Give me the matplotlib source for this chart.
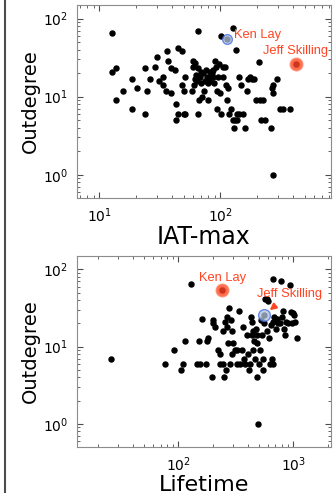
import matplotlib
matplotlib.use("Agg")
import matplotlib.pyplot as plt
from matplotlib.lines import Line2D


""" data read off the picture """
iat_max = [12.8, 12.8, 13.8, 13.8, 15.8, 18.8, 18.8, 20.7, 24.0, 24.0,
           24.8, 26.1, 28.7, 30.0, 31.1, 33.4, 34.0, 36.7, 36.9, 38.9,
           39.6, 42.0, 43.3, 43.3, 45.2, 45.2, 48.2, 48.2, 49.8, 50.7,
           51.4, 51.7, 58.3, 60.2, 60.2, 61.4, 62.1, 63.4, 64.1, 65.0,
           65.0, 66.2, 67.0, 68.4, 69.2, 69.7, 70.5, 71.9, 73.8, 75.2,
           76.6, 77.6, 79.1, 80.1, 81.7, 82.7, 83.7, 85.3, 87.0, 88.1,
           89.8, 90.9, 92.6, 93.8, 95.0, 96.8, 98.1, 100, 101.9, 101.9,
           105.2, 106.6, 110, 112, 115, 115.7, 118, 123, 127, 128,
           130.6, 133, 135.6, 137, 139, 142, 144.5, 150, 156, 162,
           166, 171, 177, 183, 191, 198.5, 209, 212, 218, 225,
           236, 262, 267, 276, 276, 272, 294, 313, 330, 379,
           35.8, 61.3, 113, 422]
outdeg_iat = [65, 21, 23, 9, 12, 7, 17, 13, 23, 6,
              12, 17, 24, 32, 16, 18, 14, 38, 29, 23,
              11, 22, 8, 5, 6, 42, 39, 14, 6, 12,
              18, 6, 12, 24, 29, 27, 17, 19, 16, 70,
              6, 23, 9, 18, 21, 15, 10, 20, 12, 16,
              22, 18, 9, 15, 21, 16, 18, 20, 18, 22,
              15, 29, 24, 7, 12, 18, 26, 11, 6, 60,
              24, 18, 24, 14, 9, 13, 6, 7, 75, 5,
              4, 5, 40, 6, 5, 18, 6, 14, 6, 4,
              12, 17, 18, 17, 17, 9, 28, 9, 5, 9,
              5, 4, 13, 11, 14, 1, 17, 7, 7, 7,
              12, 14, 55, 26]

lifetime = [25.8, 77.1, 91.7, 105.5, 110.5, 114.3, 128, 146, 150, 154,
            159.5, 173, 176, 182, 197.6, 199, 201.5, 208, 223, 230,
            230, 238, 243, 246, 249.5, 253, 258, 263, 267, 268.6,
            274, 281, 285, 291, 295, 301, 311, 321, 326, 339,
            344, 355.4, 367, 372, 383, 393, 406, 414, 420, 426,
            434, 440, 443, 449, 455, 464, 470, 480, 480, 486,
            493, 506, 513, 520, 531, 541, 548, 556, 567, 587,
            587, 607, 610, 627, 635, 648, 661, 670, 670, 679,
            702, 716, 741, 766, 781, 792, 808, 830, 847, 864,
            905, 936, 948, 968, 987, 1014, 1033, 1069]
outdeg_life = [7, 6, 9, 5, 6, 12, 65, 6, 12, 6,
               23, 6, 12, 13, 4, 22, 20, 18, 9, 8,
               6, 55, 16, 6, 4, 21, 5, 24, 18, 11,
               32, 6, 22, 16, 8, 11, 9, 6, 9, 29,
               6, 9, 18, 7, 6, 14, 8, 5, 6, 24,
               21, 14, 9, 16, 12, 7, 17, 4, 11, 14,
               1, 6, 9, 22, 14, 7, 5, 20, 42, 42,
               16, 39, 13, 6, 19, 7, 21, 76, 6, 24,
               17, 23, 20, 20, 70, 24, 29, 17, 14, 21,
               20, 62, 28, 20, 27, 26, 21, 13]

ken_iat, jeff_iat = 113, 422
ken_life, jeff_life = 238, 559
ken_out, jeff_out = 55, 26

lifetime.append(jeff_life)
outdeg_life.append(jeff_out)


red = "#ff4422"
ann_font = dict(family="Liberation Sans", size=9.3, color=red)


def style_axis(ax):
    """ classic look: log axes, inward ticks all round """
    ax.set_xscale("log")
    ax.set_yscale("log")
    ax.set_ylim(0.5, 150)
    for sp in ax.spines.values():
        sp.set_color("0.55")
    ax.tick_params(which="both", direction="in", top=True, right=True,
                   labelsize=10, color="0.3")
    ax.tick_params(which="major", length=4, pad=6)
    ax.tick_params(which="minor", length=2)
    ax.set_ylabel("Outdegree", fontsize=14, labelpad=2)


fig = plt.figure(figsize=(3.33, 4.93), dpi=100)

ax1 = fig.add_axes([0.230, 0.598, 0.764, 0.392])
ax1.scatter(iat_max, outdeg_iat, s=13, color="black", zorder=2)
ax1.plot(ken_iat, ken_out, "o", ms=7, mfc="lightsteelblue", mec="royalblue",
         mew=1, alpha=0.75, zorder=3)
ax1.plot(jeff_iat, jeff_out, "o", ms=8.5, mfc=red, mec="#ff7755",
         mew=1.5, alpha=0.8, zorder=3)
style_axis(ax1)
ax1.set_xlim(6.5, 826)
ax1.set_xlabel("IAT-max", fontsize=17, labelpad=0)
ax1.annotate("Ken Lay", (ken_iat, ken_out), xytext=(5.5, 3),
             textcoords="offset points", ha="left", va="center", **ann_font)
ax1.annotate("Jeff Skilling", (jeff_iat, jeff_out), xytext=(0, 9.5),
             textcoords="offset points", ha="center", va="center", **ann_font)

ax2 = fig.add_axes([0.230, 0.093, 0.764, 0.388])
ax2.scatter(lifetime, outdeg_life, s=13, color="black", zorder=2)
ax2.plot(ken_life, ken_out, "o", ms=8.5, mfc=red, mec="#ff7755",
         mew=1.5, alpha=0.8, zorder=3)
ax2.plot(jeff_life, jeff_out, "o", ms=8.5, mfc="lightsteelblue", mec="royalblue",
         mew=1, alpha=0.75, zorder=3)
style_axis(ax2)
ax2.set_xlim(13, 2130)
ax2.set_xlabel("Lifetime", fontsize=16, labelpad=1)
ax2.annotate("Ken Lay", (ken_life, ken_out), xytext=(1, 8),
             textcoords="offset points", ha="center", va="center", **ann_font)
ax2.annotate("Jeff Skilling", (jeff_life, jeff_out), xytext=(18.5, 15),
             textcoords="offset points", ha="center", va="center",
             arrowprops=dict(arrowstyle="-|>", color=red, lw=1.5,
                             shrinkA=4, shrinkB=5, mutation_scale=9),
             **ann_font)

fig.add_artist(Line2D([0.015, 0.015], [0, 1], color="0.3", lw=1.5))

plt.savefig("out.png", dpi=100)
